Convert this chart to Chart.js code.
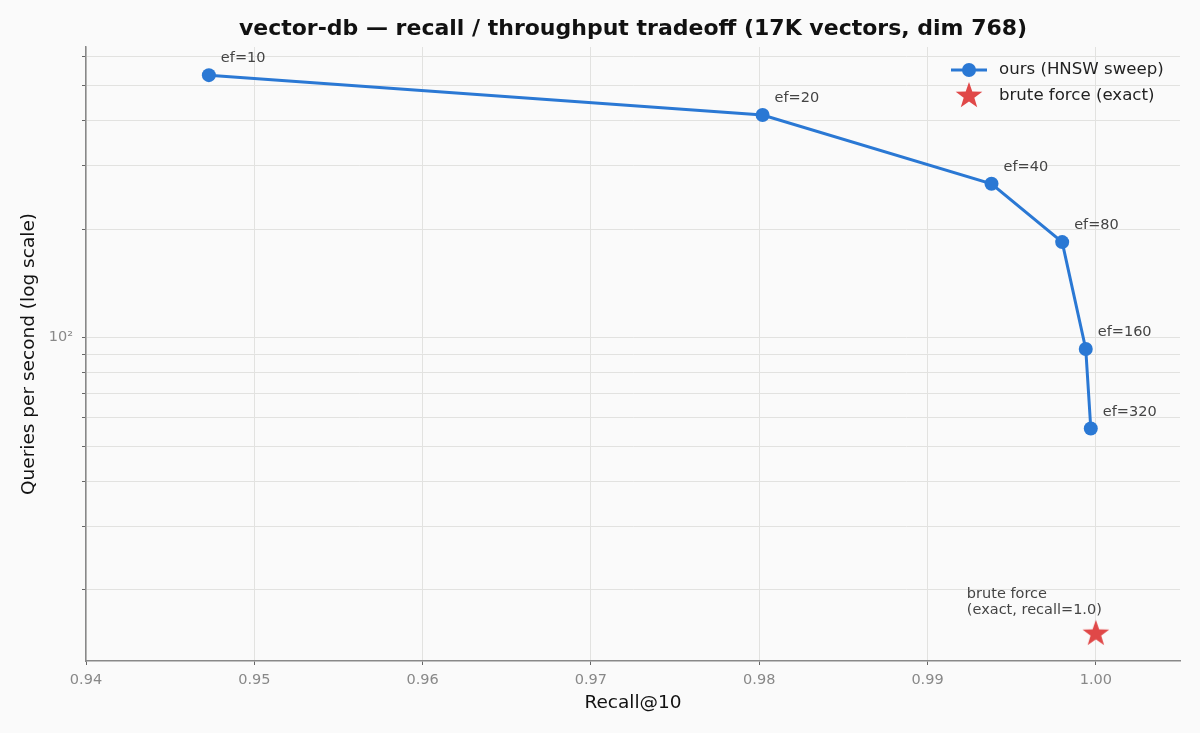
<!DOCTYPE html>
<html><head><meta charset="utf-8">
<script src="https://cdn.jsdelivr.net/npm/chart.js@4.4.1/dist/chart.umd.min.js"></script>
<style>html,body{margin:0;padding:0;background:#fafafa;}#wrap{width:1200px;height:733px;}</style>
</head><body><div id="wrap"><canvas id="c" width="1200" height="733"></canvas></div>
<script>
// ---- data ----
const efLabels = ['ef=10', 'ef=20', 'ef=40', 'ef=80', 'ef=160', 'ef=320'];
const recall = [0.9473, 0.9802, 0.9938, 0.9980, 0.9994, 0.9997];
const qps = [534, 414, 267, 184, 93, 56];
const bruteRecall = [1.0];
const bruteQps = [15.2];
const bruteNote = ['brute force', '(exact, recall=1.0)'];
const seriesNames = ['ours (HNSW sweep)', 'brute force (exact)'];
const titleText = 'vector-db \u2014 recall / throughput tradeoff (17K vectors, dim 768)';
const xTitle = 'Recall@10';
const yTitle = 'Queries per second (log scale)';
const xTickValues = [0.94, 0.95, 0.96, 0.97, 0.98, 0.99, 1.00];
const xTickText = ['0.94', '0.95', '0.96', '0.97', '0.98', '0.99', '1.00'];
const yTickValues = [20, 30, 40, 50, 60, 70, 80, 90, 100, 200, 300, 400, 500, 600];
const yTickText = ['', '', '', '', '', '', '', '', '10\u00B2', '', '', '', '', ''];
const xRange = [0.94, 1.005];
const yRange = [12.7, 639];

// ---- style ----
const FONT = "'DejaVu Sans', sans-serif";
const BLUE = '#2a78d4';
const RED = '#e04848';
Chart.defaults.font.family = FONT;

function makeStar(r, color) {
  const s = Math.ceil(r * 2 + 2);
  const cv = document.createElement('canvas');
  cv.width = s; cv.height = s;
  const c = cv.getContext('2d');
  c.fillStyle = color;
  c.beginPath();
  for (let i = 0; i < 10; i++) {
    const a = -Math.PI / 2 + i * Math.PI / 5;
    const rr = i % 2 === 0 ? r : r * 0.4;
    c.lineTo(s / 2 + rr * Math.cos(a), s / 2 + 1 + rr * Math.sin(a));
  }
  c.closePath(); c.fill();
  return cv;
}
const star = makeStar(14, RED);

const decor = {
  id: 'decor',
  beforeDraw(chart) {
    const { ctx, width, height } = chart;
    ctx.save(); ctx.fillStyle = '#fafafa'; ctx.fillRect(0, 0, width, height); ctx.restore();
  },
  afterDatasetsDraw(chart) {
    const ctx = chart.ctx, xs = chart.scales.x, ys = chart.scales.y, ca = chart.chartArea;
    ctx.save();
    ctx.textBaseline = 'middle';
    // title
    ctx.font = 'bold 22px ' + FONT; ctx.fillStyle = '#111'; ctx.textAlign = 'center';
    ctx.fillText(titleText, (ca.left + ca.right) / 2, 29);
    // ef labels
    ctx.font = '14.5px ' + FONT; ctx.fillStyle = '#444'; ctx.textAlign = 'left';
    efLabels.forEach((t, i) => {
      const px = xs.getPixelForValue(recall[i]), py = ys.getPixelForValue(qps[i]);
      ctx.fillText(t, px + 12, py - 16.5);
    });
    // brute note
    const bx = xs.getPixelForValue(bruteRecall[0]), by = ys.getPixelForValue(bruteQps[0]);
    ctx.fillText(bruteNote[0], bx - 129, by - 39);
    ctx.fillText(bruteNote[1], bx - 129, by - 23);
    // legend
    ctx.strokeStyle = BLUE; ctx.lineWidth = 3;
    ctx.beginPath(); ctx.moveTo(951, 70); ctx.lineTo(987, 70); ctx.stroke();
    ctx.fillStyle = BLUE; ctx.beginPath(); ctx.arc(969, 70, 7, 0, Math.PI * 2); ctx.fill();
    ctx.drawImage(star, 969 - star.width / 2, 95 - star.height / 2);
    ctx.font = '16.6px ' + FONT; ctx.fillStyle = '#222';
    ctx.fillText(seriesNames[0], 999, 70);
    ctx.fillText(seriesNames[1], 999, 96);
    ctx.restore();
  }
};

new Chart(document.getElementById('c'), {
  type: 'scatter',
  data: {
    datasets: [
      {
        label: seriesNames[0],
        data: recall.map((r, i) => ({ x: r, y: qps[i] })),
        showLine: true, borderColor: BLUE, backgroundColor: BLUE, borderWidth: 3,
        pointRadius: 7, pointHoverRadius: 7, pointBorderWidth: 0
      },
      {
        label: seriesNames[1],
        data: bruteRecall.map((r, i) => ({ x: r, y: bruteQps[i] })),
        pointStyle: star, pointRadius: 14, backgroundColor: RED, borderColor: RED
      }
    ]
  },
  options: {
    responsive: false, animation: false, devicePixelRatio: 1,
    layout: { padding: { left: 0, right: 20, top: 47, bottom: 0 } },
    plugins: { legend: { display: false }, tooltip: { enabled: false }, title: { display: false } },
    scales: {
      x: {
        type: 'linear', min: xRange[0], max: xRange[1],
        afterBuildTicks: s => { s.ticks = xTickValues.map(v => ({ value: v })); },
        afterFit: s => { s.height = 72; },
        ticks: { autoSkip: false, color: '#888', font: { size: 14.5 }, padding: 7,
          callback: (v, i) => xTickText[i] },
        grid: { color: '#e2e2e0', lineWidth: 1, tickColor: '#666', tickLength: 4 },
        border: { color: '#888', width: 1.5 },
        title: { display: true, text: xTitle, color: '#111', font: { size: 18.5 }, padding: { top: 0, bottom: 19 } }
      },
      y: {
        type: 'logarithmic', min: yRange[0], max: yRange[1],
        afterBuildTicks: s => { s.ticks = yTickValues.map(v => ({ value: v })); },
        afterFit: s => { s.width = 86; },
        ticks: { autoSkip: false, color: '#888', font: { size: 14.5 }, padding: 9,
          callback: (v, i) => yTickText[i] },
        grid: { color: '#e2e2e0', lineWidth: 1, tickColor: '#666', tickLength: 4 },
        border: { color: '#888', width: 1.5 },
        title: { display: true, text: yTitle, color: '#111', font: { size: 18.5 }, padding: { top: 18, bottom: 0 } }
      }
    }
  },
  plugins: [decor]
});
</script></body></html>
